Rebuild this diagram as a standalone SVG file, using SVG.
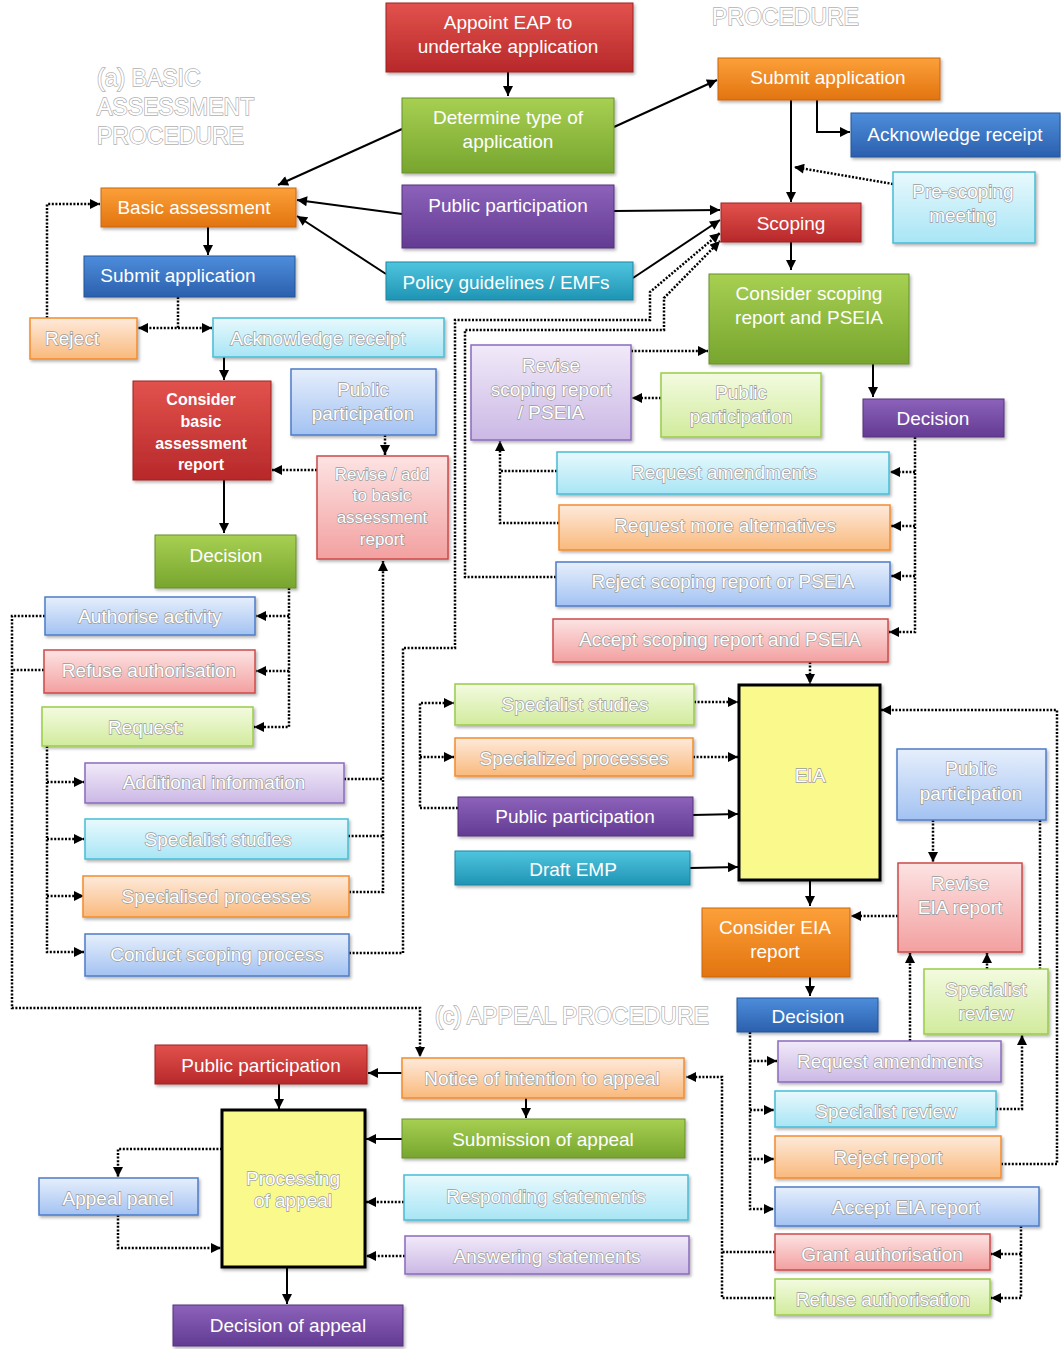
<svg xmlns="http://www.w3.org/2000/svg" width="1061" height="1349" viewBox="0 0 1061 1349">
<defs>
<linearGradient id="gRed" x1="0" y1="0" x2="0" y2="1"><stop offset="0" stop-color="#e2524c"/><stop offset="1" stop-color="#b7282a"/></linearGradient>
<linearGradient id="gGreen" x1="0" y1="0" x2="0" y2="1"><stop offset="0" stop-color="#a7d052"/><stop offset="1" stop-color="#77a52e"/></linearGradient>
<linearGradient id="gPurple" x1="0" y1="0" x2="0" y2="1"><stop offset="0" stop-color="#8c62ba"/><stop offset="1" stop-color="#633b93"/></linearGradient>
<linearGradient id="gTeal" x1="0" y1="0" x2="0" y2="1"><stop offset="0" stop-color="#4fc5df"/><stop offset="1" stop-color="#1f94b4"/></linearGradient>
<linearGradient id="gOrange" x1="0" y1="0" x2="0" y2="1"><stop offset="0" stop-color="#fca03a"/><stop offset="1" stop-color="#e2740f"/></linearGradient>
<linearGradient id="gBlue" x1="0" y1="0" x2="0" y2="1"><stop offset="0" stop-color="#4d8ddb"/><stop offset="1" stop-color="#2b60ae"/></linearGradient>
<linearGradient id="lCyan" x1="0" y1="0" x2="0" y2="1"><stop offset="0" stop-color="#e8f9fd"/><stop offset="1" stop-color="#a8e5f5"/></linearGradient>
<linearGradient id="lOrange" x1="0" y1="0" x2="0" y2="1"><stop offset="0" stop-color="#feeadb"/><stop offset="1" stop-color="#f9b97c"/></linearGradient>
<linearGradient id="lBlue" x1="0" y1="0" x2="0" y2="1"><stop offset="0" stop-color="#e6effc"/><stop offset="1" stop-color="#a3c2f2"/></linearGradient>
<linearGradient id="lRed" x1="0" y1="0" x2="0" y2="1"><stop offset="0" stop-color="#fde3e3"/><stop offset="1" stop-color="#f3a0a0"/></linearGradient>
<linearGradient id="lGreen" x1="0" y1="0" x2="0" y2="1"><stop offset="0" stop-color="#f3fbe0"/><stop offset="1" stop-color="#d1eb9c"/></linearGradient>
<linearGradient id="lPurple" x1="0" y1="0" x2="0" y2="1"><stop offset="0" stop-color="#f1eaf9"/><stop offset="1" stop-color="#cbb8e5"/></linearGradient>
<filter id="sh" x="-10%" y="-10%" width="125%" height="140%"><feDropShadow dx="1.5" dy="2" stdDeviation="1.5" flood-color="#000" flood-opacity="0.3"/></filter>
<marker id="arr" viewBox="0 0 10 10" refX="10" refY="5" markerWidth="11" markerHeight="10" markerUnits="userSpaceOnUse" orient="auto"><path d="M0,0 L10,5 L0,10 z" fill="#000"/></marker>
<style>
rect{filter:url(#sh)}
.red{fill:url(#gRed);stroke:#9c2222;stroke-width:1}
.green{fill:url(#gGreen);stroke:#67902a;stroke-width:1}
.purple{fill:url(#gPurple);stroke:#55327f;stroke-width:1}
.teal{fill:url(#gTeal);stroke:#1a85a2;stroke-width:1}
.orange{fill:url(#gOrange);stroke:#c8670e;stroke-width:1}
.blue{fill:url(#gBlue);stroke:#24549a;stroke-width:1}
.lcyan{fill:url(#lCyan);stroke:#47bcd6;stroke-width:1.5}
.lorange{fill:url(#lOrange);stroke:#f28c2e;stroke-width:1.5}
.lblue{fill:url(#lBlue);stroke:#4d7cc8;stroke-width:1.5}
.lred{fill:url(#lRed);stroke:#cc4b4b;stroke-width:1.5}
.lgreen{fill:url(#lGreen);stroke:#9bcb4a;stroke-width:1.5}
.lpurple{fill:url(#lPurple);stroke:#8b6bbd;stroke-width:1.5}
.yellow{fill:#fafa8c;stroke:#000;stroke-width:3}
text{font-family:"Liberation Sans",Arial,sans-serif;font-size:19px;text-anchor:middle}
.d{fill:#fff}
.l{fill:#fff;stroke:#9a9a9a;stroke-width:1.3;paint-order:stroke fill}
.b{font-weight:bold;font-size:16px}
.hd{font-size:23px;text-anchor:start;fill:#fff;stroke:#b0b0b0;stroke-width:1.4;paint-order:stroke fill}
.sol{fill:none;stroke:#000;stroke-width:2}
.dot{fill:none;stroke:#000;stroke-width:2.5;stroke-dasharray:2 1.6}
.arr{marker-end:url(#arr)}
</style>
</defs>
<rect x="0" y="0" width="1061" height="1349" fill="#fff" style="filter:none"/>

<g id="headings">
<text class="hd" x="97" y="86">(a) BASIC</text>
<text class="hd" x="97" y="115">ASSESSMENT</text>
<text class="hd" x="97" y="144">PROCEDURE</text>
<text class="hd" x="712" y="25">PROCEDURE</text>
<text class="hd" x="435" y="1024">(c) APPEAL PROCEDURE</text>
</g>

<g id="connectors">
<path class="sol arr" d="M508,72 V96"/>
<path class="sol arr" d="M402,129 L278,185"/>
<path class="sol arr" d="M402,214 L297,200"/>
<path class="sol arr" d="M386,274 L297,216"/>
<path class="sol arr" d="M208,227 V255"/>
<path class="sol arr" d="M614,127 L717,80"/>
<path class="sol arr" d="M614,211 L720,210"/>
<path class="sol arr" d="M633,278 L720,220"/>
<path class="sol arr" d="M791,100 V202"/>
<path class="sol arr" d="M817,100 V132 H850"/>
<path class="sol arr" d="M791,242 V270"/>
<path class="sol arr" d="M873,364 V397"/>
<path class="sol arr" d="M224,357 V380"/>
<path class="sol arr" d="M224,480 V533"/>
<path class="sol arr" d="M810,880 V906"/>
<path class="sol arr" d="M810,977 V996"/>
<path class="sol arr" d="M693,815 L738,814"/>
<path class="sol arr" d="M690,868 L738,867"/>
<path class="sol arr" d="M402,1073 H368"/>
<path class="sol arr" d="M526,1098 V1118"/>
<path class="sol arr" d="M402,1139 H366"/>
<path class="sol arr" d="M279,1084 V1109"/>
<path class="sol arr" d="M287,1267 V1304"/>

<path class="dot arr" d="M47,318 V204 H100"/>
<path class="dot arr" d="M178,297 V328 H138"/>
<path class="dot arr" d="M178,328 H212"/>
<path class="dot arr" d="M385,435 V455"/>
<path class="dot arr" d="M317,470 H272"/>
<path class="dot arr" d="M289,588 V727 H254"/>
<path class="dot arr" d="M289,616 H256"/>
<path class="dot arr" d="M289,671 H256"/>
<path class="dot arr" d="M45,616 H12 V1008 H420 V1057"/>
<path class="dot" d="M44,670 H12"/>
<path class="dot arr" d="M47,746 V952 H84"/>
<path class="dot arr" d="M47,782 H84"/>
<path class="dot arr" d="M47,839 H84"/>
<path class="dot arr" d="M47,896 H84"/>
<path class="dot" d="M344,779 H383"/>
<path class="dot" d="M348,836 H383"/>
<path class="dot arr" d="M349,892 H383 V561"/>
<path class="dot arr" d="M349,953 H403 V648 H455 V320 H650 V292 L720,233"/>
<path class="dot arr" d="M556,577 H465 V330 H664 V298 L720,241"/>
<path class="dot arr" d="M893,184 L794,167"/>
<path class="dot arr" d="M631,351 H708"/>
<path class="dot arr" d="M661,398 H632"/>
<path class="dot arr" d="M557,471 H500 V441"/>
<path class="dot" d="M559,523 H500 V471"/>
<path class="dot arr" d="M915,437 V632 H889"/>
<path class="dot arr" d="M915,472 H890"/>
<path class="dot arr" d="M915,526 H891"/>
<path class="dot arr" d="M915,576 H891"/>
<path class="dot arr" d="M810,662 V684"/>
<path class="dot arr" d="M458,808 H420 V703 H454"/>
<path class="dot arr" d="M420,757 H454"/>
<path class="dot arr" d="M694,702 H738"/>
<path class="dot arr" d="M693,757 H738"/>
<path class="dot arr" d="M1001,1164 H1057 V710 H881"/>
<path class="dot arr" d="M933,820 V862"/>
<path class="dot arr" d="M1040,820 V987"/>
<path class="dot arr" d="M898,916 H851"/>
<path class="dot arr" d="M987,969 V953"/>
<path class="dot arr" d="M910,1041 V953"/>
<path class="dot arr" d="M996,1109 H1022 V1035"/>
<path class="dot arr" d="M750,1032 V1209 H774"/>
<path class="dot arr" d="M750,1061 H777"/>
<path class="dot arr" d="M750,1110 H774"/>
<path class="dot arr" d="M750,1159 H774"/>
<path class="dot arr" d="M1021,1226 V1298 H991"/>
<path class="dot arr" d="M1021,1254 H991"/>
<path class="dot" d="M775,1252 H722"/>
<path class="dot arr" d="M775,1298 H722 V1077 H686"/>
<path class="dot arr" d="M222,1149 H118 V1177"/>
<path class="dot arr" d="M118,1215 V1248 H221"/>
<path class="dot arr" d="M404,1202 H366"/>
<path class="dot arr" d="M405,1256 H366"/>
</g>

<g id="n1"><rect class="red" x="386" y="3" width="247" height="69"/><text class="d" x="508" y="29">Appoint EAP to</text><text class="d" x="508" y="53">undertake application</text></g>
<g id="n2"><rect class="green" x="402" y="98" width="212" height="75"/><text class="d" x="508" y="124">Determine type of</text><text class="d" x="508" y="148">application</text></g>
<g id="n3"><rect class="purple" x="402" y="185" width="212" height="63"/><text class="d" x="508" y="212">Public participation</text></g>
<g id="n4"><rect class="teal" x="386" y="262" width="247" height="38"/><text class="d" x="506" y="289">Policy guidelines / EMFs</text></g>
<g id="n5"><rect class="orange" x="101" y="188" width="195" height="39"/><text class="d" x="194" y="214">Basic assessment</text></g>
<g id="n6"><rect class="blue" x="84" y="256" width="211" height="41"/><text class="d" x="178" y="282">Submit application</text></g>
<g id="n7"><rect class="lorange" x="30" y="318" width="107" height="41"/><text class="l" x="72" y="345">Reject</text></g>
<g id="n8"><rect class="lcyan" x="213" y="318" width="231" height="39"/><text class="l" x="318" y="345">Acknowledge receipt</text></g>
<g id="n9"><rect class="red" x="133" y="381" width="138" height="99"/><text class="d b" x="201" y="405">Consider</text><text class="d b" x="201" y="427">basic</text><text class="d b" x="201" y="449">assessment</text><text class="d b" x="201" y="470">report</text></g>
<g id="n10"><rect class="lblue" x="291" y="369" width="145" height="66"/><text class="l" x="363" y="396">Public</text><text class="l" x="363" y="420">participation</text></g>
<g id="n11"><rect class="lred" x="317" y="456" width="131" height="103"/><text class="l" x="382" y="480" style="font-size:17px">Revise / add</text><text class="l" x="382" y="501" style="font-size:17px">to basic</text><text class="l" x="382" y="523" style="font-size:17px">assessment</text><text class="l" x="382" y="545" style="font-size:17px">report</text></g>
<g id="n12"><rect class="green" x="155" y="535" width="141" height="53"/><text class="d" x="226" y="562">Decision</text></g>
<g id="n13"><rect class="lblue" x="45" y="597" width="210" height="38"/><text class="l" x="150" y="623">Authorise activity</text></g>
<g id="n14"><rect class="lred" x="44" y="650" width="211" height="43"/><text class="l" x="149" y="677">Refuse authorisation</text></g>
<g id="n15"><rect class="lgreen" x="42" y="707" width="211" height="39"/><text class="l" x="146" y="734">Request:</text></g>
<g id="n16"><rect class="lpurple" x="85" y="763" width="259" height="40"/><text class="l" x="214" y="789">Additional information</text></g>
<g id="n17"><rect class="lcyan" x="85" y="819" width="263" height="40"/><text class="l" x="218" y="846">Specialist studies</text></g>
<g id="n18"><rect class="lorange" x="83" y="876" width="266" height="41"/><text class="l" x="216" y="903">Specialised processes</text></g>
<g id="n19"><rect class="lblue" x="85" y="934" width="264" height="42"/><text class="l" x="217" y="961">Conduct scoping process</text></g>
<g id="n20"><rect class="orange" x="718" y="58" width="222" height="42"/><text class="d" x="828" y="84">Submit application</text></g>
<g id="n21"><rect class="blue" x="851" y="113" width="209" height="44"/><text class="d" x="955" y="141">Acknowledge receipt</text></g>
<g id="n22"><rect class="lcyan" x="893" y="172" width="142" height="71"/><text class="l" x="963" y="198">Pre-scoping</text><text class="l" x="963" y="222">meeting</text></g>
<g id="n23"><rect class="red" x="721" y="203" width="140" height="39"/><text class="d" x="791" y="230">Scoping</text></g>
<g id="n24"><rect class="green" x="709" y="274" width="200" height="90"/><text class="d" x="809" y="300">Consider scoping</text><text class="d" x="809" y="324">report and PSEIA</text></g>
<g id="n25"><rect class="lpurple" x="471" y="345" width="160" height="95"/><text class="l" x="551" y="372">Revise</text><text class="l" x="551" y="396">scoping report</text><text class="l" x="551" y="419">/ PSEIA</text></g>
<g id="n26"><rect class="lgreen" x="661" y="373" width="160" height="64"/><text class="l" x="741" y="399">Public</text><text class="l" x="741" y="423">participation</text></g>
<g id="n27"><rect class="purple" x="863" y="399" width="141" height="38"/><text class="d" x="933" y="425">Decision</text></g>
<g id="n28"><rect class="lcyan" x="557" y="452" width="332" height="42"/><text class="l" x="724" y="479">Request amendments</text></g>
<g id="n29"><rect class="lorange" x="559" y="505" width="331" height="45"/><text class="l" x="725" y="532">Request more alternatives</text></g>
<g id="n30"><rect class="lblue" x="556" y="562" width="334" height="44"/><text class="l" x="723" y="588">Reject scoping report or PSEIA</text></g>
<g id="n31"><rect class="lred" x="553" y="619" width="335" height="43"/><text class="l" x="720" y="646">Accept scoping report and PSEIA</text></g>
<g id="n32"><rect class="lgreen" x="455" y="684" width="239" height="41"/><text class="l" x="575" y="711">Specialist studies</text></g>
<g id="n33"><rect class="lorange" x="455" y="738" width="238" height="38"/><text class="l" x="574" y="765">Specialized processes</text></g>
<g id="n34"><rect class="purple" x="458" y="797" width="235" height="39"/><text class="d" x="575" y="823">Public participation</text></g>
<g id="n35"><rect class="teal" x="455" y="851" width="235" height="34"/><text class="d" x="573" y="876">Draft EMP</text></g>
<g id="n36"><rect class="yellow" x="739" y="685" width="141" height="195"/><text class="l" x="810" y="782">EIA</text></g>
<g id="n37"><rect class="lblue" x="897" y="749" width="149" height="71"/><text class="l" x="971" y="775">Public</text><text class="l" x="971" y="800">participation</text></g>
<g id="n38"><rect class="lred" x="898" y="863" width="124" height="89"/><text class="l" x="960" y="890">Revise</text><text class="l" x="960" y="914">EIA report</text></g>
<g id="n39"><rect class="orange" x="702" y="908" width="148" height="69"/><text class="d" x="775" y="934">Consider EIA</text><text class="d" x="775" y="958">report</text></g>
<g id="n40"><rect class="lgreen" x="924" y="969" width="124" height="65"/><text class="l" x="986" y="996">Specialist</text><text class="l" x="986" y="1020">review</text></g>
<g id="n41"><rect class="blue" x="737" y="998" width="141" height="34"/><text class="d" x="808" y="1023">Decision</text></g>
<g id="n42"><rect class="lpurple" x="778" y="1041" width="223" height="41"/><text class="l" x="890" y="1068">Request amendments</text></g>
<g id="n43"><rect class="lcyan" x="775" y="1091" width="221" height="36"/><text class="l" x="886" y="1118">Specialist review</text></g>
<g id="n44"><rect class="lorange" x="775" y="1136" width="226" height="42"/><text class="l" x="888" y="1164">Reject report</text></g>
<g id="n45"><rect class="lblue" x="775" y="1187" width="264" height="39"/><text class="l" x="906" y="1214">Accept EIA report</text></g>
<g id="n46"><rect class="lred" x="775" y="1234" width="215" height="36"/><text class="l" x="882" y="1261">Grant authorisation</text></g>
<g id="n47"><rect class="lgreen" x="775" y="1279" width="215" height="36"/><text class="l" x="883" y="1306">Refuse authorisation</text></g>
<g id="n48"><rect class="red" x="155" y="1045" width="212" height="39"/><text class="d" x="261" y="1072">Public participation</text></g>
<g id="n49"><rect class="lorange" x="402" y="1058" width="282" height="40"/><text class="l" x="542" y="1085">Notice of intention to appeal</text></g>
<g id="n50"><rect class="green" x="402" y="1119" width="283" height="39"/><text class="d" x="543" y="1146">Submission of appeal</text></g>
<g id="n51"><rect class="lcyan" x="404" y="1175" width="284" height="45"/><text class="l" x="546" y="1203">Responding statements</text></g>
<g id="n52"><rect class="lpurple" x="405" y="1236" width="284" height="38"/><text class="l" x="547" y="1263">Answering statements</text></g>
<g id="n53"><rect class="yellow" x="222" y="1110" width="143" height="157"/><text class="l" x="293" y="1185">Processing</text><text class="l" x="293" y="1207">of appeal</text></g>
<g id="n54"><rect class="lblue" x="39" y="1178" width="159" height="37"/><text class="l" x="118" y="1205">Appeal panel</text></g>
<g id="n55"><rect class="purple" x="173" y="1305" width="230" height="41"/><text class="d" x="288" y="1332">Decision of appeal</text></g>
</svg>
